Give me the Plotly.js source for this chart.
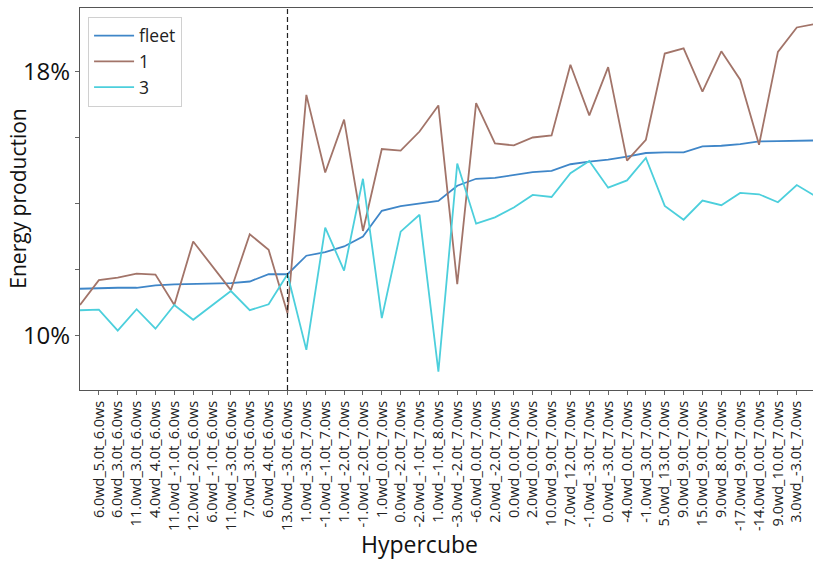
<!DOCTYPE html>
<html>
<head>
<meta charset="utf-8">
<script src="https://cdn.plot.ly/plotly-3.0.1.min.js"></script>
<style>html,body{margin:0;padding:0;background:#fff;overflow:hidden}</style>
</head>
<body>
<div id="chart" style="width:813px;height:561px"></div>
<script>
// Hypercube labels (first point unlabeled, last point beyond the crop)
const hypercubes = [
  "",
  "6.0wd_5.0t_6.0ws", "6.0wd_3.0t_6.0ws", "11.0wd_3.0t_6.0ws", "4.0wd_4.0t_6.0ws",
  "11.0wd_-1.0t_6.0ws", "12.0wd_-2.0t_6.0ws", "6.0wd_-1.0t_6.0ws", "11.0wd_-3.0t_6.0ws",
  "7.0wd_3.0t_6.0ws", "6.0wd_4.0t_6.0ws", "13.0wd_-3.0t_6.0ws", "1.0wd_-3.0t_7.0ws",
  "-1.0wd_-1.0t_7.0ws", "1.0wd_-2.0t_7.0ws", "-1.0wd_-2.0t_7.0ws", "1.0wd_0.0t_7.0ws",
  "0.0wd_-2.0t_7.0ws", "-2.0wd_-1.0t_7.0ws", "1.0wd_-1.0t_8.0ws", "-3.0wd_-2.0t_7.0ws",
  "-6.0wd_0.0t_7.0ws", "2.0wd_-2.0t_7.0ws", "0.0wd_0.0t_7.0ws", "2.0wd_0.0t_7.0ws",
  "10.0wd_9.0t_7.0ws", "7.0wd_12.0t_7.0ws", "-1.0wd_-3.0t_7.0ws", "0.0wd_-3.0t_7.0ws",
  "-4.0wd_0.0t_7.0ws", "-1.0wd_3.0t_7.0ws", "5.0wd_13.0t_7.0ws", "9.0wd_9.0t_7.0ws",
  "15.0wd_9.0t_7.0ws", "9.0wd_8.0t_7.0ws", "-17.0wd_9.0t_7.0ws", "-14.0wd_0.0t_7.0ws",
  "9.0wd_10.0t_7.0ws", "3.0wd_-3.0t_7.0ws",
  ""
];

// Energy production (%)
const fleet = [11.42, 11.44, 11.45, 11.45, 11.52, 11.55, 11.56, 11.58, 11.59, 11.64,
  11.86, 11.86, 12.42, 12.53, 12.70, 13.00, 13.78, 13.92, 14.00, 14.08,
  14.54, 14.75, 14.78, 14.87, 14.95, 14.99, 15.19, 15.27, 15.33, 15.42,
  15.53, 15.55, 15.55, 15.73, 15.75, 15.80, 15.88, 15.89, 15.90, 15.91];

const series1 = [10.93, 11.68, 11.76, 11.88, 11.85, 10.93, 12.85, 12.12, 11.38, 13.07,
  12.60, 10.68, 17.29, 14.94, 16.54, 13.17, 15.65, 15.60, 16.18, 16.97,
  11.56, 17.04, 15.82, 15.76, 16.00, 16.06, 18.20, 16.67, 18.13, 15.30,
  15.93, 18.54, 18.70, 17.39, 18.61, 17.75, 15.78, 18.59, 19.33, 19.44];

const series3 = [10.77, 10.79, 10.15, 10.80, 10.21, 10.93, 10.48, 10.92, 11.35, 10.77,
  10.95, 11.86, 9.57, 13.27, 11.97, 14.75, 10.53, 13.15, 13.66, 8.91,
  15.21, 13.39, 13.58, 13.88, 14.26, 14.20, 14.92, 15.29, 14.48, 14.70,
  15.38, 13.93, 13.51, 14.09, 13.95, 14.32, 14.28, 14.04, 14.56, 14.22];

const splitIndex = 11; // dashed separator at "13.0wd_-3.0t_6.0ws"
const yTickVals = [10, 12, 14, 16, 18];
const yTickText = ["10%", "", "", "", "18%"];

const xs = hypercubes.map((_, i) => i);
const tickIdx = xs.filter(i => hypercubes[i] !== "");

const font = "Open Sans, Liberation Sans, sans-serif";

const traces = [
  {x: xs, y: fleet, name: "fleet", mode: "lines", line: {color: "#3f86c8", width: 1.8}},
  {x: xs, y: series1, name: "1", mode: "lines", line: {color: "#a27469", width: 1.8}},
  {x: xs, y: series3, name: "3", mode: "lines", line: {color: "#4ccfdc", width: 1.8}}
];

const layout = {
  width: 813, height: 561,
  margin: {l: 80, r: 0, t: 8, b: 171},
  paper_bgcolor: "#fff", plot_bgcolor: "#fff",
  showlegend: true,
  legend: {
    x: 0.011, y: 0.977, xanchor: "left", yanchor: "top",
    bgcolor: "rgba(255,255,255,0.9)", bordercolor: "#d0d0d0", borderwidth: 1,
    font: {family: font, size: 17.5, color: "#222"},
    tracegroupgap: 0, itemwidth: 40
  },
  xaxis: {
    range: [0, 38.86],
    tickmode: "array", tickvals: tickIdx, ticktext: tickIdx.map(i => hypercubes[i]),
    tickangle: -90, tickfont: {family: font, size: 14.5, color: "#222"},
    ticks: "outside", ticklen: 4, tickcolor: "#666",
    showgrid: false, zeroline: false,
    showline: true, linecolor: "#555", linewidth: 1, mirror: true
  },
  yaxis: {
    range: [8.355, 19.92],
    tickmode: "array", tickvals: yTickVals, ticktext: yTickText,
    tickfont: {family: font, size: 24, color: "#111"},
    ticks: "outside", ticklen: 4, tickcolor: "#666",
    showgrid: false, zeroline: false,
    showline: true, linecolor: "#555", linewidth: 1, mirror: true
  },
  shapes: [{
    type: "line", xref: "x", yref: "paper",
    x0: splitIndex, x1: splitIndex, y0: 0, y1: 1,
    line: {color: "#222", width: 1.2, dash: "5px,3px"}
  }],
  annotations: [
    {text: "Energy production", xref: "paper", yref: "paper", x: -0.085, y: 0.5,
     xanchor: "center", yanchor: "middle", textangle: -90, showarrow: false,
     font: {family: font, size: 21, color: "#111"}},
    {text: "Hypercube", xref: "paper", yref: "paper", x: 0.4625, y: -0.403,
     xanchor: "center", yanchor: "middle", showarrow: false,
     font: {family: font, size: 23, color: "#111"}}
  ]
};

Plotly.newPlot("chart", traces, layout, {displayModeBar: false, staticPlot: true});
</script>
</body>
</html>
